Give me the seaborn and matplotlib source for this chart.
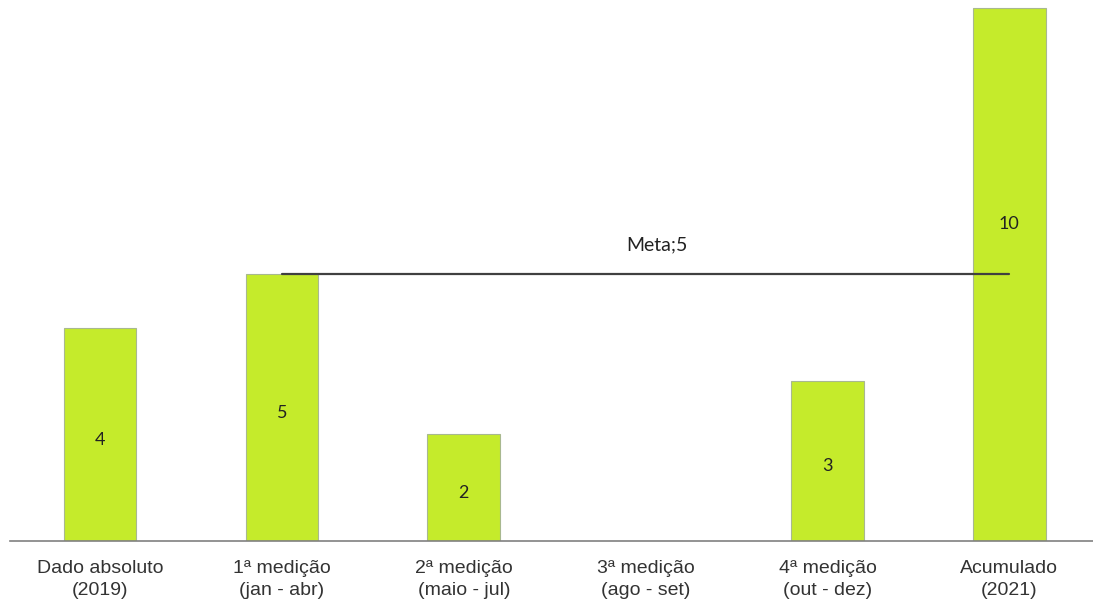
import matplotlib
matplotlib.use("Agg")
import matplotlib.pyplot as plt
import seaborn as sns
import pandas as pd

categories = ["Dado absoluto\n(2019)", "1ª medição\n(jan - abr)", "2ª medição\n(maio - jul)",
              "3ª medição\n(ago - set)", "4ª medição\n(out - dez)", "Acumulado\n(2021)"]
values = [4, 5, 2, 0, 3, 10]
label_texts = ["4", "5", "2", "", "3", "10"]
label_heights = [1.9, 2.4, 0.9, 0, 1.4, 5.95]
meta_value = 5
meta_label = "Meta;5"

sns.set_theme(style="white")
plt.rcParams['font.family'] = ['Liberation Sans', 'DejaVu Sans']

df = pd.DataFrame({"cat": categories, "val": values})

fig = plt.figure(figsize=(10.93, 6.02), dpi=100)
ax = fig.add_axes([10/1093, 61/602, 1083/1093, 541/602])
sns.barplot(data=df, x="cat", y="val", color="#c5eb2b", saturation=1, width=0.4,
            edgecolor="#a8b890", linewidth=0.8, ax=ax)

for i, (t, h) in enumerate(zip(label_texts, label_heights)):
    if t:
        ax.text(i, h, t, ha="center", va="center", fontsize=13, color="#222222",
                family=["Lato", "DejaVu Sans"])

ax.plot([1, 5], [meta_value, meta_value], color="#404040", linewidth=1.6, zorder=5)
ax.text(3.06, meta_value + 0.55, meta_label, ha="center", va="center", fontsize=14,
        color="#222222", family=["Lato", "DejaVu Sans"])

ax.set_xlim(-0.495, 5.46)
ax.set_ylim(0, 10.15)
ax.set_xlabel("")
ax.set_ylabel("")
ax.set_yticks([])
for s in ["top", "right", "left"]:
    ax.spines[s].set_visible(False)
ax.spines["bottom"].set_color("#808080")
ax.spines["bottom"].set_linewidth(1.2)
ax.tick_params(axis="x", length=0, pad=14, labelsize=14, labelcolor="#333333")
for lab in ax.get_xticklabels():
    lab.set_linespacing(1.35)

fig.savefig("out.png", dpi=100, facecolor="white")
